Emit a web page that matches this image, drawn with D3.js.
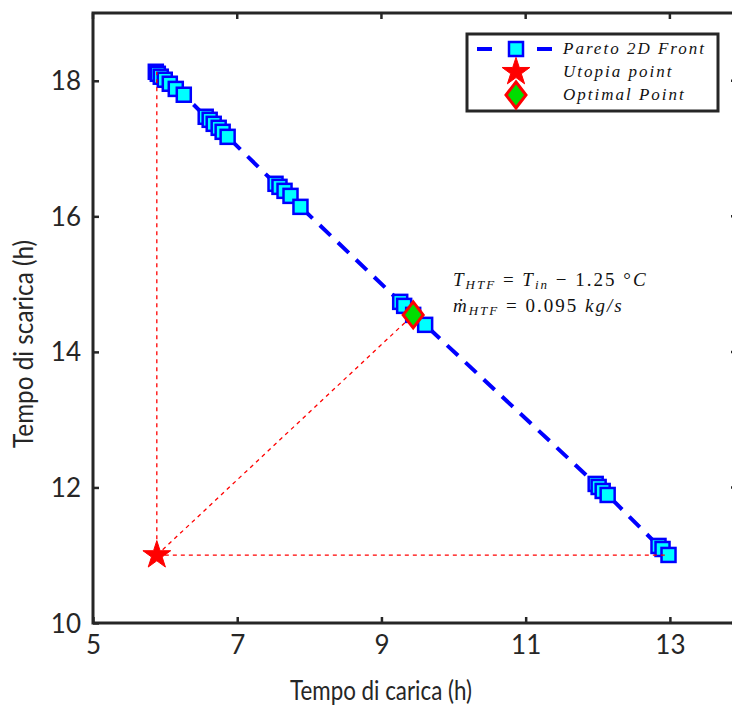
<!DOCTYPE html>
<html><head><meta charset="utf-8">
<script src="https://cdn.jsdelivr.net/npm/d3@7"></script>
<style>body{margin:0;background:#fff}svg{display:block}</style>
</head><body>
<script>
// ---- data ----
const chargeTime = [5.871,5.899,5.94,5.995,6.065,6.148,6.259,
  6.563,6.618,6.674,6.743,6.798,6.867,
  7.531,7.586,7.656,7.739,7.877,
  9.26,9.315,9.44,9.606,
  11.971,12.012,12.068,12.137,
  12.842,12.898,12.981];
const dischargeTime = [18.133,18.103,18.06,18.015,17.956,17.88,17.794,
  17.469,17.424,17.365,17.306,17.247,17.173,
  16.48,16.435,16.376,16.302,16.14,
  14.738,14.679,14.546,14.399,
  12.052,12.007,11.948,11.889,
  11.137,11.092,11.004];
const utopia = [5.885, 11.0];
const optimal = [9.44, 14.546];
const xTicks = [5,7,9,11,13];
const yTicks = [10,12,14,16,18];
const legendLabels = ["Pareto 2D Front","Utopia point","Optimal Point"];

const W=732,H=706;
const svg=d3.select("body").append("svg").attr("width",W).attr("height",H);
const x=d3.scaleLinear().domain([5,14]).range([93,742]);
const y=d3.scaleLinear().domain([10,19]).range([623,13]);
const axisCol="#262626";
const tickFont="Lato, 'Open Sans', sans-serif";

// frame
svg.append("rect").attr("x",x(5)).attr("y",y(19)).attr("width",x(14)-x(5)).attr("height",y(10)-y(19))
  .attr("fill","none").attr("stroke",axisCol).attr("stroke-width",3);

// axes
const xa=svg.append("g").attr("transform",`translate(0,${y(10)})`)
  .call(d3.axisBottom(x).tickValues(xTicks).tickSizeInner(-6).tickSizeOuter(0).tickPadding(13));
const ya=svg.append("g").attr("transform",`translate(${x(5)},0)`)
  .call(d3.axisLeft(y).tickValues(yTicks).tickSizeInner(-6).tickSizeOuter(0).tickPadding(12));
[xa,ya].forEach(a=>{
  a.select(".domain").remove();
  a.selectAll(".tick line").attr("stroke",axisCol).attr("stroke-width",2.5);
  a.selectAll(".tick text").attr("fill",axisCol).attr("font-family",tickFont).attr("font-size",26);
});
ya.selectAll(".tick text").attr("dy","0.35em");
// mirrored ticks on top/right
svg.append("g").selectAll("line").data(yTicks).join("line")
  .attr("x1",x(14)-11).attr("x2",x(14)).attr("y1",d=>y(d)).attr("y2",d=>y(d))
  .attr("stroke",axisCol).attr("stroke-width",2.5);
svg.append("g").selectAll("line").data(xTicks).join("line")
  .attr("x1",d=>x(d)).attr("x2",d=>x(d)).attr("y1",y(19)).attr("y2",y(19)+6)
  .attr("stroke",axisCol).attr("stroke-width",2.5);

// axis titles
svg.append("text").attr("x",381).attr("y",700).attr("text-anchor","middle")
  .attr("font-family",tickFont).attr("font-size",26).attr("fill",axisCol)
  .attr("textLength",182).attr("lengthAdjust","spacingAndGlyphs").text("Tempo di carica (h)");
svg.append("text").attr("transform","translate(33,344) rotate(-90)").attr("text-anchor","middle")
  .attr("font-family",tickFont).attr("font-size",26).attr("fill",axisCol)
  .attr("textLength",208).attr("lengthAdjust","spacingAndGlyphs").text("Tempo di scarica (h)");

// pareto front line
const pts=chargeTime.map((c,i)=>[c,dischargeTime[i]]);
svg.append("path").datum(pts)
  .attr("d",d3.line().x(d=>x(d[0])).y(d=>y(d[1])))
  .attr("fill","none").attr("stroke","#0000ff").attr("stroke-width",4).attr("stroke-dasharray","15,10");
const sq=14;
svg.append("g").selectAll("rect").data(pts).join("rect")
  .attr("x",d=>x(d[0])-sq/2).attr("y",d=>y(d[1])-sq/2).attr("width",sq).attr("height",sq)
  .attr("fill","#00ffff").attr("stroke","#0000ff").attr("stroke-width",2.5);

// red dashed guide lines
const last=pts[pts.length-1], first=pts[0];
const guides=[[utopia,[utopia[0],first[1]]],[utopia,[last[0],utopia[1]]],[utopia,optimal]];
svg.append("g").selectAll("line").data(guides).join("line")
  .attr("x1",d=>x(d[0][0])).attr("y1",d=>y(d[0][1])).attr("x2",d=>x(d[1][0])).attr("y2",d=>y(d[1][1]))
  .attr("stroke","#ff0000").attr("stroke-width",1.3).attr("stroke-dasharray","4,4");

// markers
const star=d3.symbol().type(d3.symbolStar).size(240);
const diamondPath="M0,-13L10,0L0,13L-10,0Z";
svg.append("path").attr("d",star()).attr("transform",`translate(${x(utopia[0])},${y(utopia[1])})`)
  .attr("fill","#ff0000").attr("stroke","#ff0000").attr("stroke-width",1);
svg.append("path").attr("d",diamondPath).attr("transform",`translate(${x(optimal[0])},${y(optimal[1])})`)
  .attr("fill","#00dd00").attr("stroke","#ff0000").attr("stroke-width",3);

// annotation
const serif="'Liberation Serif','DejaVu Serif',serif";
const a1=svg.append("text").attr("x",453).attr("y",286).attr("font-family",serif).attr("font-size",19)
  .attr("letter-spacing",2).attr("fill","#111");
a1.append("tspan").attr("font-style","italic").text("T");
a1.append("tspan").attr("font-style","italic").attr("font-size",13).attr("dy",3).text("HTF");
a1.append("tspan").attr("dy",-3).text(" = ");
a1.append("tspan").attr("font-style","italic").text("T");
a1.append("tspan").attr("font-style","italic").attr("font-size",13).attr("dy",3).text("in");
a1.append("tspan").attr("dy",-3).text(" \u2212 1.25 \u00B0");
a1.append("tspan").attr("font-style","italic").text("C");
const a2=svg.append("text").attr("x",453).attr("y",312).attr("font-family",serif).attr("font-size",19)
  .attr("letter-spacing",2).attr("fill","#111");
a2.append("tspan").attr("font-style","italic").text("\u1E41");
a2.append("tspan").attr("font-style","italic").attr("font-size",13).attr("dy",3).text("HTF");
a2.append("tspan").attr("dy",-3).text(" = 0.095 ");
a2.append("tspan").attr("font-style","italic").text("kg/s");

// legend
const lg=svg.append("g");
lg.append("rect").attr("x",467).attr("y",34).attr("width",251).attr("height",77)
  .attr("fill","#fff").attr("stroke",axisCol).attr("stroke-width",3);
const rows=[49,72,95];
lg.append("line").attr("x1",477).attr("x2",553).attr("y1",rows[0]).attr("y2",rows[0])
  .attr("stroke","#0000ff").attr("stroke-width",4).attr("stroke-dasharray","15,45");
lg.append("rect").attr("x",516-sq/2).attr("y",rows[0]-sq/2).attr("width",sq).attr("height",sq)
  .attr("fill","#00ffff").attr("stroke","#0000ff").attr("stroke-width",2.5);
lg.append("path").attr("d",star()).attr("transform",`translate(516,${rows[1]})`).attr("fill","#ff0000").attr("stroke","#ff0000");
lg.append("path").attr("d",diamondPath).attr("transform",`translate(516,${rows[2]})`)
  .attr("fill","#00dd00").attr("stroke","#ff0000").attr("stroke-width",3);
lg.selectAll("text.l").data(legendLabels).join("text").attr("class","l")
  .attr("x",563).attr("y",(d,i)=>rows[i]+5).attr("font-family",serif).attr("font-style","italic")
  .attr("font-size",17).attr("fill","#111").attr("letter-spacing",2).text(d=>d);
</script>
</body></html>
